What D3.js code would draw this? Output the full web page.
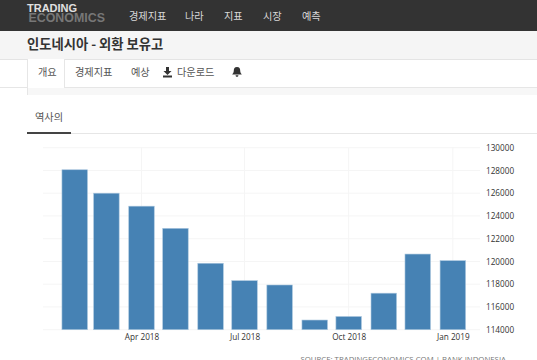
<!DOCTYPE html>
<html>
<head>
<meta charset="utf-8">
<script src="https://cdnjs.cloudflare.com/ajax/libs/d3/7.8.5/d3.min.js"></script>
<style>
  html, body { margin: 0; padding: 0; background: #fff; overflow: hidden; }
  svg { display: block; }
  .kr { font-family: "Noto Sans CJK KR", "Noto Sans", sans-serif; }
</style>
</head>
<body>
<svg id="chart" width="537" height="360"></svg>
<script>
const months = ['2018-02-01', '2018-03-01', '2018-04-01', '2018-05-01', '2018-06-01', '2018-07-01',
  '2018-08-01', '2018-09-01', '2018-10-01', '2018-11-01', '2018-12-01', '2019-01-01'];
const reserves = [128060, 126000, 124860, 122910, 119840, 118310, 117930, 114850, 115160, 117210, 120650, 120070];
const yTicks = [114000, 116000, 118000, 120000, 122000, 124000, 126000, 128000, 130000];
const xTicks = ['2018-04-01', '2018-07-01', '2018-10-01', '2019-01-01'];
const navItems = ['경제지표', '나라', '지표', '시장', '예측'];
const navX = [129, 185, 224, 263, 302];
const tabItems = ['개요', '경제지표', '예상', '다운로드'];
const tabX = [38, 75, 131, 177];

const svg = d3.select('#chart');
const parse = d3.utcParse('%Y-%m-%d');

// page chrome
svg.append('rect').attr('width', 537).attr('height', 31).attr('fill', '#333333');
svg.append('rect').attr('y', 31).attr('width', 537).attr('height', 28).attr('fill', '#f5f5f5');
svg.append('rect').attr('y', 59).attr('width', 537).attr('height', 1).attr('fill', '#e4e4e4');
svg.append('rect').attr('x', 27).attr('y', 87).attr('width', 510).attr('height', 8).attr('fill', '#f7f7f7');
svg.append('rect').attr('y', 87).attr('width', 537).attr('height', 1).attr('fill', '#e6e6e6');
svg.append('rect').attr('x', 27).attr('y', 59).attr('width', 38).attr('height', 29).attr('fill', '#fff');
svg.append('rect').attr('x', 27).attr('y', 59).attr('width', 1).attr('height', 36).attr('fill', '#e6e6e6');
svg.append('rect').attr('x', 64).attr('y', 59).attr('width', 1).attr('height', 29).attr('fill', '#e6e6e6');

svg.append('text').text('TRADING').attr('x', 27).attr('y', 12)
  .attr('font-family', 'Liberation Sans').attr('font-weight', 700).attr('font-size', 11).attr('fill', '#e0e0e0');
svg.append('text').text('ECONOMICS').attr('x', 28.5).attr('y', 22)
  .attr('font-family', 'Liberation Sans').attr('font-weight', 700).attr('font-size', 12.4).attr('fill', '#777');

svg.selectAll('text.nav').data(navItems).enter().append('text')
  .attr('class', 'nav kr').text(d => d)
  .attr('x', (d, i) => navX[i]).attr('y', 20)
  .attr('font-size', 10.2).attr('fill', '#d8d8d8');

svg.append('text').attr('class', 'kr').text('인도네시아 - 외환 보유고')
  .attr('x', 27).attr('y', 49).attr('font-size', 13.3).attr('font-weight', 700).attr('fill', '#333');

svg.selectAll('text.tab').data(tabItems).enter().append('text')
  .attr('class', 'tab kr').text(d => d)
  .attr('x', (d, i) => tabX[i]).attr('y', 76)
  .attr('font-size', 10.2).attr('fill', '#555');

// download icon
svg.append('path').attr('d', 'M166,67 h3 v4 h2.5 l-4,4 l-4,-4 h2.5 Z M163,75.5 h9 v2 h-9 Z').attr('fill', '#333');
// bell icon
svg.append('path').attr('d', 'M237,67 c2.5,0 3.2,1.8 3.2,3.5 c0,2.2 1,3.2 1.6,4 h-9.6 c0.6,-0.8 1.6,-1.8 1.6,-4 c0,-1.7 0.7,-3.5 3.2,-3.5 Z M235.6,75.2 h2.8 c0,1 -0.6,1.5 -1.4,1.5 c-0.8,0 -1.4,-0.5 -1.4,-1.5 Z').attr('fill', '#333');

svg.append('text').attr('class', 'kr').text('역사의').attr('x', 35).attr('y', 121)
  .attr('font-size', 10.2).attr('fill', '#555');
svg.append('rect').attr('x', 27).attr('y', 133).attr('width', 510).attr('height', 1).attr('fill', '#e6e6e6');
svg.append('rect').attr('x', 27).attr('y', 132).attr('width', 44).attr('height', 2).attr('fill', '#444');

// chart
const x = d3.scaleUtc()
  .domain([parse('2018-01-04'), parse('2019-01-25')])
  .range([43, 480]);
const y = d3.scaleLinear()
  .domain([114000, 130000])
  .range([329.7, 147.7]);

const barWidth = 25.5;

const grid = svg.append('g');
grid.selectAll('line.h').data(yTicks).enter().append('line')
  .attr('class', 'h')
  .attr('x1', 43).attr('x2', 480)
  .attr('y1', d => y(d)).attr('y2', d => y(d))
  .attr('stroke', '#f5f5f5');
grid.selectAll('line.v').data(xTicks).enter().append('line')
  .attr('class', 'v')
  .attr('x1', d => x(parse(d))).attr('x2', d => x(parse(d)))
  .attr('y1', y(130000)).attr('y2', y(114000))
  .attr('stroke', '#f5f5f5');

svg.append('g').selectAll('rect').data(reserves).enter().append('rect')
  .attr('x', (d, i) => x(parse(months[i])) - barWidth / 2)
  .attr('width', barWidth)
  .attr('y', d => y(d))
  .attr('height', d => y(114000) - y(d))
  .attr('fill', '#4682b4')
  .attr('stroke', '#a9c6de')
  .attr('stroke-width', 0.6);

const yAxis = d3.axisRight(y).tickValues(yTicks).tickFormat(d3.format('d')).tickSize(0).tickPadding(6);
const yG = svg.append('g').attr('transform', 'translate(480,0)').call(yAxis);
yG.select('.domain').remove();
yG.selectAll('text').attr('font-family', 'Open Sans').attr('font-size', 8.2).attr('fill', '#333');

const xAxis = d3.axisBottom(x).tickValues(xTicks.map(parse)).tickFormat(d3.utcFormat('%b %Y')).tickSize(0).tickPadding(4);
const xG = svg.append('g').attr('transform', 'translate(0,' + y(114000) + ')').call(xAxis);
xG.select('.domain').remove();
xG.selectAll('text').attr('font-family', 'Open Sans').attr('font-size', 8.2).attr('fill', '#333');

svg.append('text').text('SOURCE: TRADINGECONOMICS.COM | BANK INDONESIA')
  .attr('x', 506).attr('y', 362).attr('text-anchor', 'end')
  .attr('font-family', 'Open Sans').attr('font-size', 7.8).attr('fill', '#777');
</script>
</body>
</html>
